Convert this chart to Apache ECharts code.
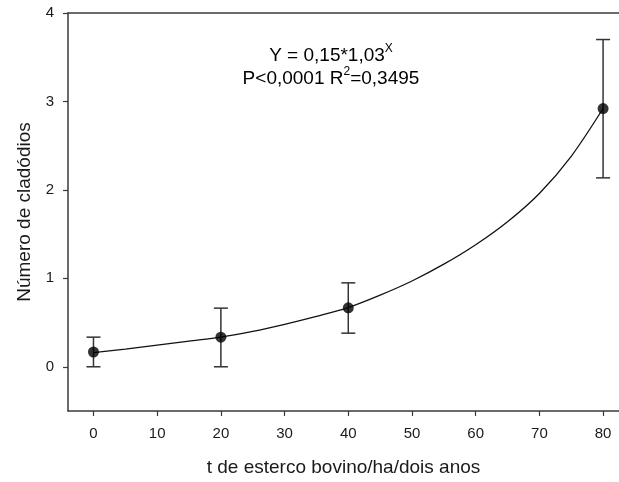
<!DOCTYPE html>
<html>
<head>
<meta charset="utf-8">
<script src="https://cdn.jsdelivr.net/npm/echarts@6/dist/echarts.min.js"></script>
<style>
html,body{margin:0;padding:0;background:#fff;}
#chart{width:619px;height:482px;}
</style>
</head>
<body>
<div id="chart"></div>
<script>
// Observed means with error bars
const doses = [0, 20, 40, 80];
const means = [0.167, 0.335, 0.666, 2.92];
const errLow = [0, 0, 0.38, 2.136];
const errHigh = [0.335, 0.663, 0.949, 3.70];

// Fitted curve
const curveX = [0, 5, 10, 15, 20, 25, 30, 35, 40, 45, 50, 55, 60, 65, 70, 75, 80];
const curveY = [0.16, 0.20, 0.245, 0.29, 0.335, 0.40, 0.48, 0.57, 0.67, 0.81, 0.97, 1.16, 1.38, 1.64, 1.96, 2.38, 2.92];

// Tick labels
const xTicks = [0, 10, 20, 30, 40, 50, 60, 70, 80];
const yTicks = [0, 1, 2, 3, 4];

const font = 'Liberation Sans, Arial, sans-serif';
const axisColor = '#3a3a3a';
const textColor = '#1a1a1a';

const chart = echarts.init(document.getElementById('chart'), null, {renderer: 'canvas'});

const option = {
  animation: false,
  backgroundColor: '#ffffff',
  grid: {left: 68, top: 13, right: 0, bottom: 65, containLabel: false},
  xAxis: [{
    type: 'value', min: -4, max: 82.5,
    name: 't de esterco bovino/ha/dois anos',
    nameLocation: 'middle', nameGap: 47,
    nameTextStyle: {fontFamily: font, fontSize: 19, color: textColor},
    axisLine: {show: true, onZero: false, lineStyle: {color: axisColor, width: 1.5}},
    axisTick: {show: true, inside: false, length: 5, customValues: xTicks, lineStyle: {color: axisColor, width: 1.2}},
    axisLabel: {customValues: xTicks, fontFamily: font, fontSize: 15, color: textColor, margin: 15},
    splitLine: {show: false}
  }, {
    type: 'value', min: -4, max: 82.5, position: 'top',
    axisLine: {show: true, onZero: false, lineStyle: {color: axisColor, width: 1.5}},
    axisTick: {show: false}, axisLabel: {show: false}, splitLine: {show: false}
  }],
  yAxis: {
    type: 'value', min: -0.5, max: 4,
    name: 'Número de cladódios',
    nameLocation: 'middle', nameGap: 33, nameRotate: 90,
    nameTextStyle: {fontFamily: font, fontSize: 19, color: textColor},
    axisLine: {show: true, onZero: false, lineStyle: {color: axisColor, width: 1.5}},
    axisTick: {show: true, inside: false, length: 5, customValues: yTicks, lineStyle: {color: axisColor, width: 1.2}},
    axisLabel: {customValues: yTicks, fontFamily: font, fontSize: 15, color: textColor, margin: 14},
    splitLine: {show: false}
  },
  series: [
    {
      type: 'line', name: 'ajuste', smooth: 0.3, showSymbol: false, symbol: 'none',
      data: curveX.map((x, i) => [x, curveY[i]]),
      lineStyle: {color: '#111', width: 1.3}, z: 2
    },
    {
      type: 'custom', name: 'erro',
      data: doses.map((x, i) => [x, errLow[i], errHigh[i]]),
      renderItem: function (params, api) {
        const x = api.value(0);
        const lo = api.coord([x, api.value(1)]);
        const hi = api.coord([x, api.value(2)]);
        const hw = 7;
        const style = {stroke: '#333', lineWidth: 1.5};
        return {
          type: 'group',
          children: [
            {type: 'line', shape: {x1: lo[0], y1: lo[1], x2: hi[0], y2: hi[1]}, style: style},
            {type: 'line', shape: {x1: lo[0] - hw, y1: lo[1], x2: lo[0] + hw, y2: lo[1]}, style: style},
            {type: 'line', shape: {x1: hi[0] - hw, y1: hi[1], x2: hi[0] + hw, y2: hi[1]}, style: style}
          ]
        };
      },
      z: 3
    },
    {
      type: 'scatter', name: 'médias',
      data: doses.map((x, i) => [x, means[i]]),
      symbol: 'circle', symbolSize: 11,
      itemStyle: {color: '#000'}, z: 4
    }
  ],
  graphic: [
    {
      type: 'text', x: 331, y: 54,
      style: {
        text: '{m|Y = 0,15*1,03}{s|X}',
        align: 'center', verticalAlign: 'middle',
        rich: {
          m: {fontFamily: font, fontSize: 19, color: textColor, lineHeight: 22, verticalAlign: 'bottom'},
          s: {fontFamily: font, fontSize: 12, color: textColor, lineHeight: 12, verticalAlign: 'top'}
        }
      }
    },
    {
      type: 'text', x: 331, y: 77,
      style: {
        text: '{m|P<0,0001 R}{s|2}{m|=0,3495}',
        align: 'center', verticalAlign: 'middle',
        rich: {
          m: {fontFamily: font, fontSize: 19, color: textColor, lineHeight: 22, verticalAlign: 'bottom'},
          s: {fontFamily: font, fontSize: 12, color: textColor, lineHeight: 12, verticalAlign: 'top'}
        }
      }
    }
  ]
};
chart.setOption(option);
</script>
</body>
</html>
